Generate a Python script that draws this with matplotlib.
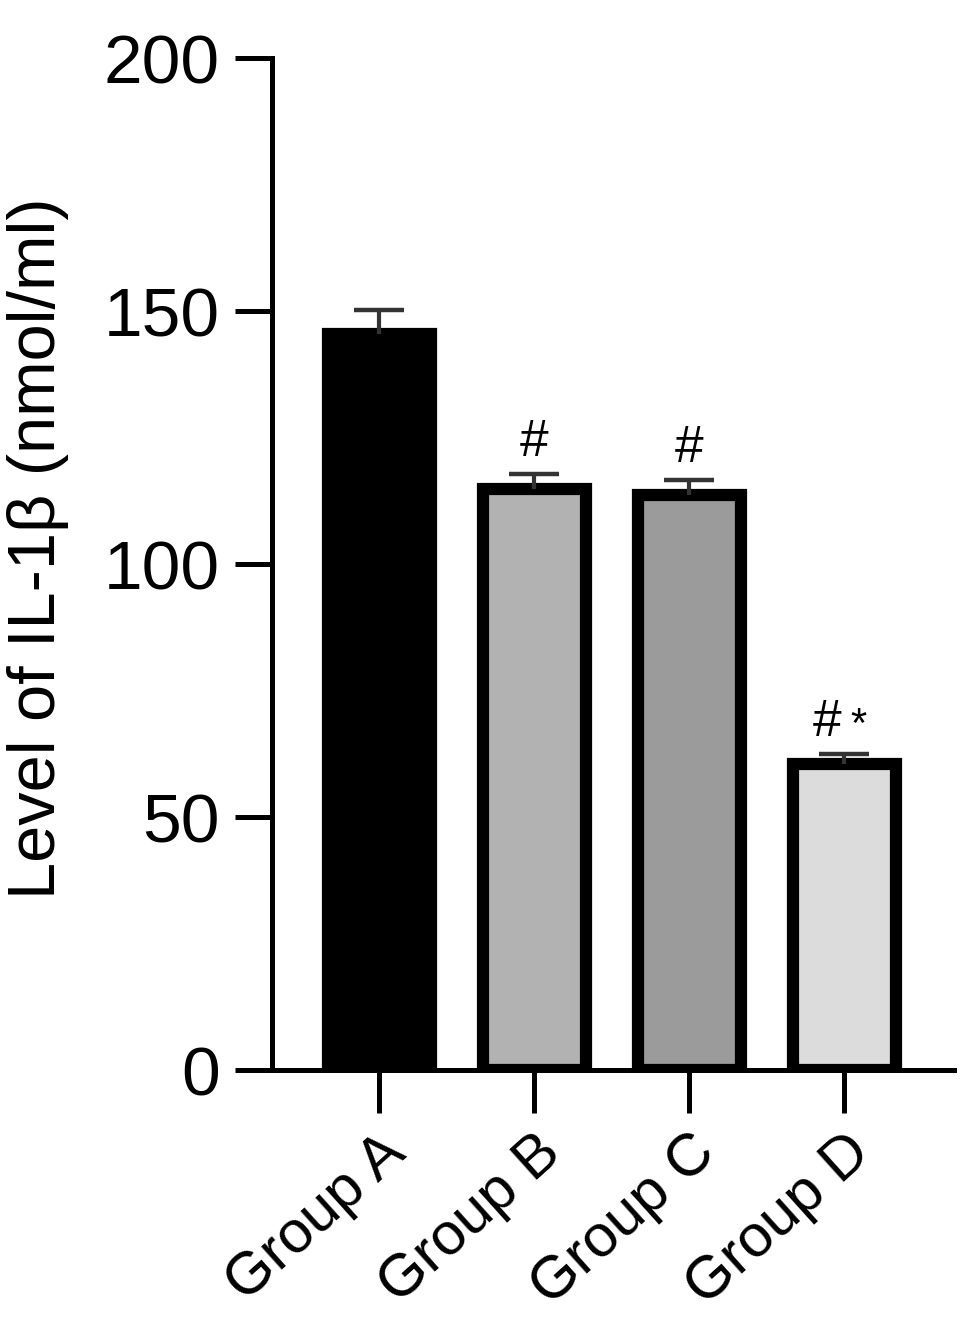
import numpy as np
import matplotlib
matplotlib.use('Agg')
from matplotlib import pyplot as plt

plt.rcParams['font.family'] = ['Liberation Sans', 'DejaVu Sans']

groups = ['Group A', 'Group B', 'Group C', 'Group D']
means = [145.6, 114.8, 113.6, 60.5]
errs = [4.6, 3.0, 3.0, 2.1]
fills = ['#000000', '#b2b2b2', '#9b9b9b', '#dcdcdc']
marks = ['', '#', '#', '#']
stars = ['', '', '', '*']

fig = plt.figure(figsize=(9.69, 13.23), dpi=100)
ax = fig.add_axes([0.281, 0.191, 0.704, 0.765])

x = np.arange(len(groups))
ax.bar(x, means, width=0.665, color=fills, edgecolor='black', linewidth=8.8, zorder=2)
# only the upper half of the error bar is shown
_, caps, _ = ax.errorbar(x, means, yerr=[np.zeros(len(errs)), errs], fmt='none',
                         ecolor='#333333', elinewidth=3, capsize=18, capthick=3.2, zorder=3)
caps[0].set_visible(False)

for i in range(len(groups)):
    top = means[i] + errs[i] + 6.2
    if stars[i]:
        ax.text(x[i] - 0.11, top, marks[i], ha='center', va='center', fontsize=37)
        ax.text(x[i] + 0.09, top - 0.8, stars[i], ha='center', va='center', fontsize=30)
    elif marks[i]:
        ax.text(x[i], top, marks[i], ha='center', va='center', fontsize=37)

ax.set_xlim(-0.69, 3.71)
ax.set_ylim(0, 200)
ax.set_yticks([0, 50, 100, 150, 200])
ax.set_xticks(x)
ax.set_xticklabels(groups, rotation=42, ha='right', rotation_mode='anchor', fontsize=43)

for s in ['top', 'right']:
    ax.spines[s].set_visible(False)
for s in ['left', 'bottom']:
    ax.spines[s].set_linewidth(3.6)

ax.tick_params(axis='y', length=27, width=3.6, pad=11, labelsize=50)
ax.tick_params(axis='x', length=31, width=3.6, pad=8)
ax.set_ylabel('Level of IL-1β (nmol/ml)', fontsize=48)
ax.yaxis.set_label_coords(-0.298, 0.516)

plt.savefig('out.png', dpi=100)
